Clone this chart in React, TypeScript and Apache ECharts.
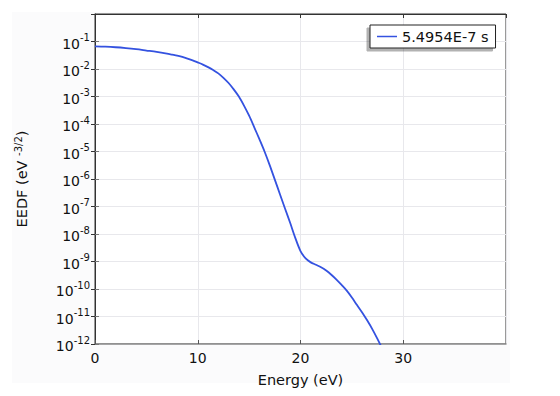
import React, { useEffect, useRef } from "react";
import * as echarts from "echarts";

const energy = [0, 1, 2, 3, 4, 5, 6, 7, 7.5, 8, 8.5, 9, 9.5, 10, 10.5, 11, 11.5, 12, 12.5, 13, 13.5, 14, 14.5, 15, 15.5, 16, 16.5, 17, 17.5, 18, 18.5, 19, 19.5, 20, 20.5, 21, 21.5, 22, 22.5, 23, 23.5, 24, 24.5, 25, 25.5, 26, 26.5, 27, 27.5, 28];
const eedf = [0.0661, 0.0646, 0.0617, 0.0575, 0.0525, 0.0468, 0.0417, 0.0363, 0.0335, 0.0309, 0.0275, 0.024, 0.0207, 0.0174, 0.0145, 0.0117, 0.00912, 0.00692, 0.00479, 0.00309, 0.00182, 0.001, 4.68e-4, 2.0e-4, 7.6e-5, 2.8e-5, 1.0e-5, 3.2e-6, 9.5e-7, 2.8e-7, 8.3e-8, 2.5e-8, 7.1e-9, 2.4e-9, 1.3e-9, 9.3e-10, 7.6e-10, 6.2e-10, 4.7e-10, 3.3e-10, 2.2e-10, 1.4e-10, 8.7e-11, 4.9e-11, 2.6e-11, 1.4e-11, 7.1e-12, 3.4e-12, 1.5e-12, 6.3e-13];
const seriesName = "5.4954E-7 s";
const xTicks = [0, 10, 20, 30];
const yExponents = [-12, -11, -10, -9, -8, -7, -6, -5, -4, -3, -2, -1];

const FONT = "DejaVu Sans";

export default function App() {
  const ref = useRef<HTMLDivElement>(null);
  useEffect(() => {
    if (!ref.current) return;
    const chart = echarts.init(ref.current, null, { renderer: "svg" });
    const data = energy.map((x, i) => [x, eedf[i]]);
    const gridLine = { show: true, lineStyle: { color: "#e8e8ec", width: 1 } };
    chart.setOption({
      animation: false,
      backgroundColor: "#ffffff",
      textStyle: { fontFamily: FONT },
      graphic: [
        {
          type: "rect",
          z: -100,
          silent: true,
          shape: { x: 12, y: 12, width: 498, height: 371 },
          style: { fill: "#fbfbfc" },
        },
      ],
      grid: {
        left: 95,
        top: 14,
        right: 54,
        bottom: 52,
        show: true,
        backgroundColor: "#ffffff",
        borderColor: "#333333",
        borderWidth: 1,
      },
      legend: {
        show: true,
        left: 370,
        top: 25,
        orient: "horizontal",
        padding: [4, 7, 4, 7],
        itemWidth: 20,
        itemHeight: 14,
        backgroundColor: "#ffffff",
        borderColor: "#222222",
        borderWidth: 1,
        borderRadius: 0,
        shadowColor: "rgba(0,0,0,0.3)",
        shadowBlur: 0,
        shadowOffsetX: -3,
        shadowOffsetY: 3,
        textStyle: { fontFamily: FONT, fontSize: 14.5, color: "#111" },
        lineStyle: { color: "#6f86ee", width: 1.5 },
        data: [{ name: seriesName, icon: "path://M0,0 L20,0 L20,1.5 L0,1.5 Z" }],
      },
      xAxis: [
        {
          type: "value",
          min: 0,
          max: 40,
          interval: 10,
          position: "bottom",
          name: "Energy (eV)",
          nameLocation: "middle",
          nameGap: 28,
          nameTextStyle: { fontFamily: FONT, fontSize: 14.5, color: "#111" },
          axisLine: { show: true, onZero: false, lineStyle: { color: "#8f8f8f", width: 1.5 } },
          axisTick: { show: true, inside: true, length: 4, lineStyle: { color: "#555" } },
          axisLabel: {
            fontFamily: FONT,
            fontSize: 14,
            color: "#111",
            margin: 7,
            showMaxLabel: false,
            formatter: (v: number) => (xTicks.includes(v) ? String(v) : ""),
          },
          splitLine: gridLine,
        },
        {
          type: "value",
          min: 0,
          max: 40,
          interval: 10,
          position: "top",
          axisLine: { show: true, lineStyle: { color: "#333", width: 1 } },
          axisTick: { show: true, inside: true, length: 4, lineStyle: { color: "#333" } },
          axisLabel: { show: false },
          splitLine: { show: false },
        },
      ],
      yAxis: [
        {
          type: "log",
          logBase: 10,
          min: 1e-12,
          max: 1,
          interval: 1,
          position: "left",
          name: "{t|EEDF (eV }{s|-3/2}{t|)}",
          nameLocation: "middle",
          nameGap: 64,
          nameTextStyle: {
            fontFamily: FONT,
            color: "#111",
            rich: {
              t: { fontFamily: FONT, fontSize: 14.5, color: "#111", lineHeight: 18 },
              s: { fontFamily: FONT, fontSize: 10, color: "#111", lineHeight: 12, verticalAlign: "top" },
            },
          },
          axisLine: { show: true, onZero: false, lineStyle: { color: "#999999", width: 1.5 } },
          axisTick: { show: true, inside: true, length: 4, lineStyle: { color: "#777" } },
          axisLabel: {
            fontFamily: FONT,
            color: "#111",
            margin: 5,
            showMaxLabel: false,
            formatter: (v: number) => {
              const e = Math.round(Math.log10(v));
              if (!yExponents.includes(e)) return "";
              return `{b|10}{s|${e}}`;
            },
            rich: {
              b: { fontFamily: FONT, fontSize: 14, color: "#111", lineHeight: 18, verticalAlign: "bottom" },
              s: { fontFamily: FONT, fontSize: 10, color: "#111", lineHeight: 12, verticalAlign: "top" },
            },
          },
          splitLine: gridLine,
        },
        {
          type: "log",
          logBase: 10,
          min: 1e-12,
          max: 1,
          interval: 1,
          position: "right",
          axisLine: { show: true, lineStyle: { color: "#333", width: 1 } },
          axisTick: { show: true, inside: true, length: 4, lineStyle: { color: "#333" } },
          axisLabel: { show: false },
          splitLine: { show: false },
        },
      ],
      series: [
        {
          name: seriesName,
          type: "line",
          xAxisIndex: 0,
          yAxisIndex: 0,
          data,
          smooth: 0.3,
          symbol: "none",
          showSymbol: false,
          clip: true,
          lineStyle: { color: "#3452e0", width: 1.8 },
          itemStyle: { color: "#3452e0" },
        },
      ],
    });
    return () => chart.dispose();
  }, []);
  return (
    <div
      ref={ref}
      style={{ position: "fixed", left: 0, top: 0, width: 560, height: 396 }}
    />
  );
}
